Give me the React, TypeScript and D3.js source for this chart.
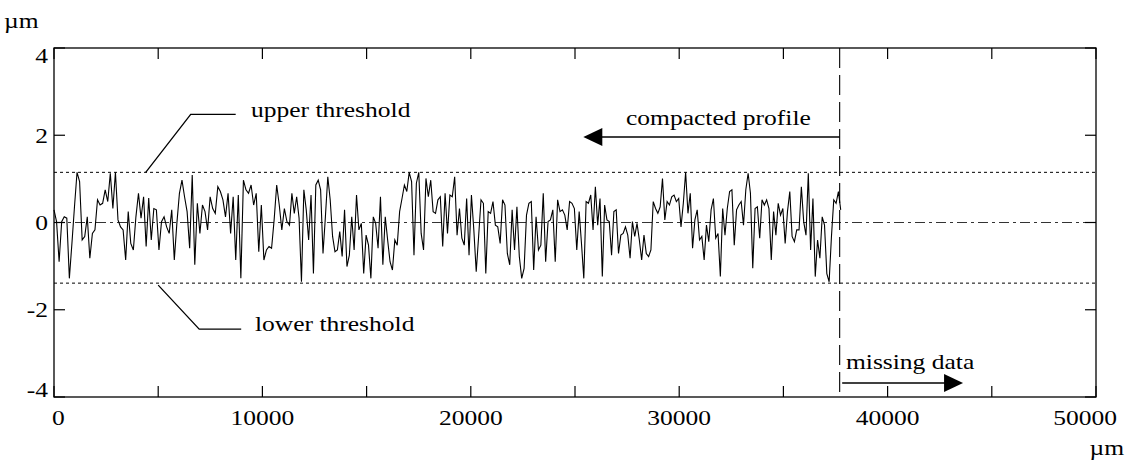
import React, { useRef, useEffect } from "react";
import * as d3 from "d3";

const profileA = [
  0.29, 0.02, -0.9, 0.02, 0.13, 0.1, -1.28, -0.48, 0.36, 1.15, 0.94, -0.4, -0.32, 0.13, -0.82, -0.25,
  -0.17, 0.52, 0.4, 0.44, 0.75, 0.48, 1.13, 0.32, 1.15, 0.06, -0.1, -0.17, -0.86, 0.25, -0.48, -0.63,
  0.13, 0.67, 0.1, 0.59, -0.55, 0.56, -0.4, 0.32, 0.29, -0.63, 0.02, 0.13, -0.1, -0.25, 0.29, -0.86,
  -0.02, 0.67, 0.97, 0.59, 0.25, -0.59, 1.09, -0.97, 0.44, -0.25, 0.4, 0.25, -0.17, 0.59, 0.32, 0.21,
  0.82, 0.71, 0.52, 0.13, 0.67, -0.25, 0.59, -0.86, 0.63, -1.28, 0.97, 0.75, 0.67, 0.86, 0.4, 0.67,
  -0.67, 0.4, -0.86, -0.63, -0.55, -0.59, 0.06, 0.86, 0.4, -0.17, 0.32, 0.02,
];
const profileB = [
  -0.06, 0.67, 0.21, 0.59, 0.1, -1.36, 0.75, 0.29, -0.4, 0.63, -1.17, 0.86, 0.97, 0.75, -0.71, 0.13,
  1.05, 0.52, -0.32, -0.67, -0.63, -0.21, -0.78, 0.29, -1.01, -0.75, 0.13, -0.63, 0.63, -0.17, -0.02,
  -1.17, -0.29, -0.52, -1.28, 0.13, -0.02, -0.59, 0.59, -0.97, 0.13, -0.4, -0.9, -1.09, -0.4, -0.52,
  0.25, 0.55, 0.86, 0.71, 1.15, 0.94, -0.75, 0.9, 1.15, -0.25, -0.63, 1.01, 0.59, 0.97, 0.25, 0.21,
  0.52, 0.59, -0.55, 0.67, -0.25, 0.63, 0.59, 1.05, -0.29, 0.32, -0.36, -0.52, 0.55, -0.75, 0.63,
  -0.17, -1.13, -0.32, 0.52, 0.44, -1.17, 0.25, 0.21, 0.48, -0.06, -0.1, -0.48, 0.52, 0.4, -0.71,
  -0.97, 0.29, -0.63, 0.36, -0.78, -1.28, -1.05, 0.17, 0.44, 0.48, -1.09, 0.13, -0.63, -0.52, 0.67,
  -0.9, 0.02, 0.06, 0.29, -0.9, 0.52, 0.25, 0.29, 0.17, -0.17, 0.48, 0.44, 0.32, -0.63,
];
const profileC = [
  0.25, -0.48, -1.28, 0.48, 0.44, 0.63, -0.17, 0.82, -0.06, 0.55, -1.24, 0.4, 0.06, 0.02, -0.75, 0.25,
  0.29, -0.71, -0.29, -0.25, -0.1, -0.29, -0.82, 0.02, -0.32, -0.02, -0.4, -0.86, -0.29, -0.71, -0.78,
  -0.63, 0.48, 0.32, 0.21, 0.36, 1.01, 0.06, 0.48, 0.4, 0.59, 0.63, 0.48, 0.55, -0.1, 0.44, 1.15,
  0.21, 0.67, -0.59, 0.06, 0.29, -0.4, -0.32, -0.86, -0.06, -0.44, 0.29, 0.55, -0.36, -0.25, -1.24,
  0.32, -0.29, 0.32, 0.71, 0.75, -0.52, 0.29, 0.4, 0.48, -0.06, 0.75, 1.13, 0.67, -1.05, 0.32, 0.36,
  -0.36, 0.52, 0.4, 0.52, 0.32, -0.86, 0.25, -0.29, 0.44, 0.17, 0.32, -0.48, 0.25, 0.71, -0.32, -0.44,
  -0.17, -0.17, 0.82, 0.02, -0.29, 1.13, -0.63, 0.55, -1.24, -0.4, -0.82, 0.13, -0.06, -1.17, -1.36,
  -0.32, 0.52, 0.44, 0.71, 0.29,
];
// stretch boundaries along the profile (um)
const stretchEdges = [0, 11300, 25200, 37750];

const xTickLabels = [0, 10000, 20000, 30000, 40000, 50000];
const yTickLabels = [-4, -2, 0, 2, 4];
const upperThreshold = 1.15;
const lowerThreshold = -1.39;
const profileEnd = 37700;

const width = 1128;
const height = 461;
const margin = { top: 48, right: 32, bottom: 64, left: 54 };
const FONT = "'Liberation Serif', 'Times New Roman', serif";
const SX = 1.16;

const Chart = () => {
  const svgRef = useRef<SVGSVGElement>(null);

  useEffect(() => {
    if (!svgRef.current) return;
    const svg = d3.select(svgRef.current);
    svg.selectAll("*").remove();

    const x = d3.scaleLinear([0, 50000], [margin.left, width - margin.right]);
    const y = d3.scaleLinear([-4, 4], [height - margin.bottom, margin.top]);
    const [x0, x1] = x.range();
    const [y0, y1] = y.range();

    const text = (str: string, tx: number, ty: number, anchor = "start") =>
      svg
        .append("text")
        .attr("transform", `translate(${tx},${ty}) scale(${SX},1)`)
        .attr("text-anchor", anchor)
        .attr("font-family", FONT)
        .attr("font-size", 22)
        .attr("fill", "#000")
        .text(str);

    // profile points
    const segs = [profileA, profileB, profileC];
    const points: [number, number][] = [];
    segs.forEach((vals, s) => {
      const a = stretchEdges[s];
      const b = stretchEdges[s + 1];
      const n = s === segs.length - 1 ? vals.length - 1 : vals.length;
      vals.forEach((v, i) => points.push([a + ((b - a) * i) / n, v]));
    });

    // zero line
    svg
      .append("line")
      .attr("x1", x0)
      .attr("x2", x1)
      .attr("y1", y(0))
      .attr("y2", y(0))
      .attr("stroke", "#333")
      .attr("stroke-width", 1)
      .attr("stroke-dasharray", "10,4,3,4");

    // thresholds
    [upperThreshold, lowerThreshold].forEach((t) => {
      svg
        .append("line")
        .attr("x1", x0)
        .attr("x2", x1)
        .attr("y1", y(t))
        .attr("y2", y(t))
        .attr("stroke", "#000")
        .attr("stroke-width", 1)
        .attr("stroke-dasharray", "3,3");
    });

    // profile trace
    const line = d3
      .line<[number, number]>()
      .x((d) => x(d[0]))
      .y((d) => y(d[1]));
    svg
      .append("path")
      .attr("d", line(points))
      .attr("fill", "none")
      .attr("stroke", "#000")
      .attr("stroke-width", 1.1)
      .attr("stroke-linejoin", "miter");

    // end of compacted profile
    svg
      .append("line")
      .attr("x1", x(profileEnd))
      .attr("x2", x(profileEnd))
      .attr("y1", y1)
      .attr("y2", y0)
      .attr("stroke", "#000")
      .attr("stroke-width", 1.1)
      .attr("stroke-dasharray", "20,7");

    // frame + ticks
    svg
      .append("rect")
      .attr("x", x0)
      .attr("y", y1)
      .attr("width", x1 - x0)
      .attr("height", y0 - y1)
      .attr("fill", "none")
      .attr("stroke", "#000")
      .attr("stroke-width", 1.3);

    const tk = 11;
    x.ticks(10).forEach((v) => {
      svg.append("line").attr("x1", x(v)).attr("x2", x(v)).attr("y1", y0).attr("y2", y0 - tk).attr("stroke", "#000").attr("stroke-width", 1.2);
      svg.append("line").attr("x1", x(v)).attr("x2", x(v)).attr("y1", y1).attr("y2", y1 + tk).attr("stroke", "#000").attr("stroke-width", 1.2);
    });
    yTickLabels.forEach((v) => {
      svg.append("line").attr("x1", x0).attr("x2", x0 + tk).attr("y1", y(v)).attr("y2", y(v)).attr("stroke", "#000").attr("stroke-width", 1.2);
      svg.append("line").attr("x1", x1).attr("x2", x1 - tk).attr("y1", y(v)).attr("y2", y(v)).attr("stroke", "#000").attr("stroke-width", 1.2);
    });

    // tick labels
    xTickLabels.forEach((v) => {
      const s = String(v);
      const w = s.length * 11 * SX;
      const cx = Math.min(Math.max(x(v), x0 + w / 2 - 2), x1 + 21 - w / 2);
      text(s, cx, 425, "middle");
    });
    yTickLabels.forEach((v) => {
      const cy = Math.min(Math.max(y(v), y1 + 7), y0 - 8);
      text(String(v), 48, cy + 7.5, "end");
    });

    // units
    text("\u00b5m", 4, 28);
    text("\u00b5m", 1124, 455, "end");

    // annotations
    const leader = d3.line();
    const ux = x(4400);
    const uy = y(upperThreshold);
    svg
      .append("path")
      .attr("d", leader([[ux, uy], [ux + 45, uy - 58], [ux + 90, uy - 58]]))
      .attr("fill", "none")
      .attr("stroke", "#000")
      .attr("stroke-width", 1.3);
    text("upper threshold", 251, 117);

    const lx = x(5000);
    const ly = y(lowerThreshold);
    svg
      .append("path")
      .attr("d", leader([[lx, ly + 2], [lx + 41, ly + 46], [lx + 83, ly + 46]]))
      .attr("fill", "none")
      .attr("stroke", "#000")
      .attr("stroke-width", 1.3);
    text("lower threshold", 255, 331);

    const arrow = (from: number, to: number, ay: number) => {
      const xa = x(from);
      const xb = x(to);
      const dir = xb > xa ? 1 : -1;
      svg.append("line").attr("x1", xa).attr("x2", xb - dir * 10).attr("y1", ay).attr("y2", ay).attr("stroke", "#000").attr("stroke-width", 1.5);
      svg
        .append("path")
        .attr("d", `M${xb},${ay}L${xb - dir * 19},${ay - 9}L${xb - dir * 19},${ay + 9}Z`)
        .attr("fill", "#000");
    };
    arrow(profileEnd, 25400, 137);
    text("compacted profile", 626, 125);
    arrow(37820, 43620, 383);
    text("missing data", 846, 369);
  }, []);

  return <svg ref={svgRef} width={width} height={height} style={{ display: "block", background: "#fff" }} />;
};

export default function App() {
  return (
    <>
      <style>{`body{margin:0}`}</style>
      <Chart />
    </>
  );
}
